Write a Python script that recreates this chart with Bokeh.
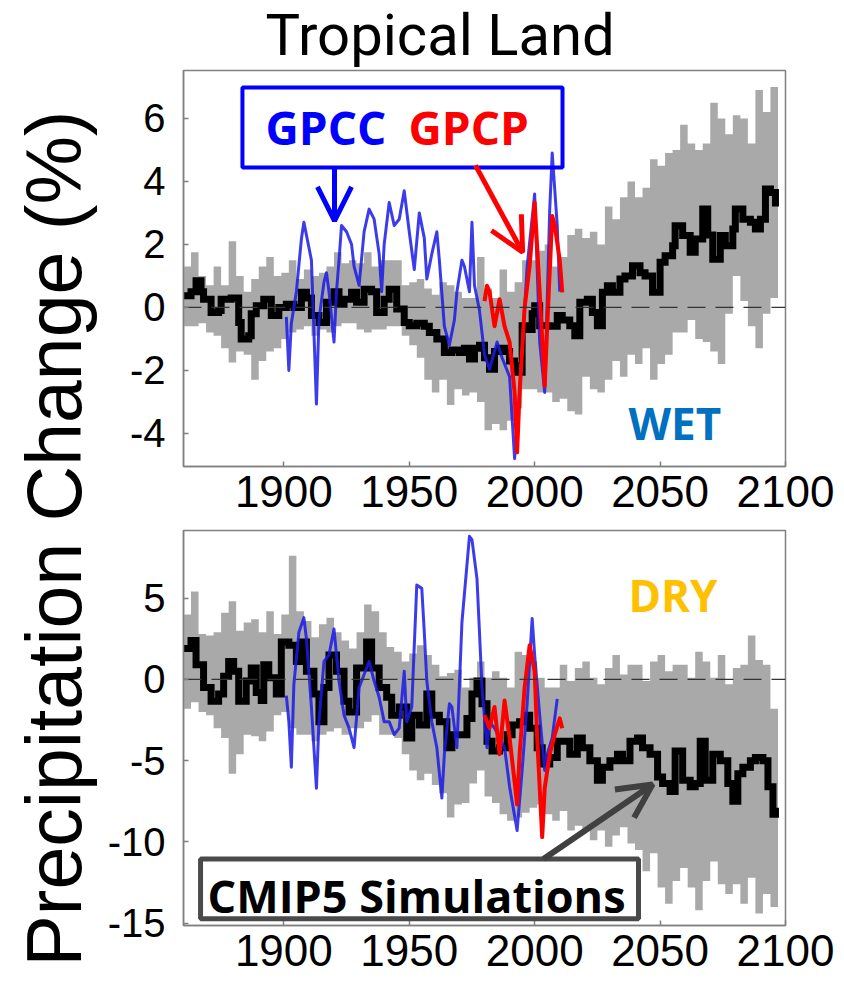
import math
from bokeh.plotting import figure
from bokeh.layouts import row, column
from bokeh.models import (Range1d, FixedTicker, Span, Label, Arrow, OpenHead,
                          BoxAnnotation)
from bokeh.core.properties import value
from bokeh.embed import file_html
from bokeh.resources import INLINE

# ------------------------------------------------------------------ data
x_ticks = [1900, 1950, 2000, 2050, 2100]
x_tick_labels = ["1900", "1950", "2000", "2050", "2100"]
wet_yticks = [-4, -2, 0, 2, 4, 6]
wet_ytick_labels = ["-4", "-2", "0", "2", "4", "6"]
dry_yticks = [-15, -10, -5, 0, 5]
dry_ytick_labels = ["-15", "-10", "-5", "0", "5"]

band_years = [1860, 1863, 1866, 1869, 1872, 1875, 1878, 1881, 1884, 1887,
              1890, 1893, 1896, 1899, 1902, 1905, 1908, 1911, 1914, 1917,
              1920, 1923, 1926, 1929, 1932, 1935, 1938, 1941, 1944, 1947,
              1950, 1953, 1956, 1959, 1962, 1965, 1968, 1971, 1974, 1977,
              1980, 1983, 1986, 1989, 1992, 1995, 1998, 2001, 2004, 2007,
              2010, 2013, 2016, 2019, 2022, 2025, 2028, 2031, 2034, 2037,
              2040, 2043, 2046, 2049, 2052, 2055, 2058, 2061, 2064, 2067,
              2070, 2073, 2076, 2079, 2082, 2085, 2088, 2091, 2094, 2097]

# WET (top) CMIP5 range
wet_band_hi = [1.3, 1.75, 1.0, 0.7, 1.3, 0.7, 2.1, 1.0, 0.5, 0.9,
               1.3, 1.6, 1.0, 1.1, 1.5, 0.9, 1.2, 1.0, 1.1, 1.3,
               1.75, 1.4, 1.5, 1.4, 1.75, 1.3, 1.5, 1.5, 1.5, 0.7,
               0.8, 0.9, 0.6, 0.4, 0.8, 0.7, 0.5, 0.3, 0.3, 1.6,
               0.6, 0.3, 1.2, 0.5, 0.8, 1.5, 1.5, 1.8, 2.0, 1.3,
               1.6, 2.3, 2.5, 2.2, 2.4, 2.0, 3.2, 2.8, 3.5, 4.0,
               3.5, 3.8, 4.7, 4.5, 4.9, 5.0, 5.8, 5.2, 5.0, 5.2,
               6.5, 6.0, 5.5, 6.1, 6.0, 5.2, 6.9, 6.2, 7.0, 6.4]
wet_band_lo = [-0.6, -0.6, -0.5, -0.8, -0.9, -1.3, -1.75, -1.4, -1.5, -2.3,
               -1.7, -1.4, -1.3, -1.0, -0.8, -0.7, -0.6, -0.9, -0.7, -0.8,
               -0.6, -0.5, -0.5, -0.7, -0.8, -0.7, -0.7, -0.6, -0.6, -0.9,
               -1.2, -1.6, -2.3, -2.7, -2.3, -3.1, -2.6, -2.8, -2.7, -3.0,
               -3.9, -3.7, -3.9, -3.6, -3.2, -2.6, -2.6, -2.7, -2.7, -3.0,
               -2.9, -3.3, -3.4, -2.2, -2.6, -2.7, -2.3, -1.7, -2.2, -1.5,
               -1.8, -1.3, -2.3, -1.8, -1.5, -0.8, -0.8, -0.4, -1.0, -1.1,
               -1.4, -1.8, -0.2, 1.0, 0.2, -0.6, -1.3, -0.2, 0.3, -0.8]

# WET multi-model mean
wet_mean_years = [1860, 1863, 1865, 1867, 1868, 1871, 1874, 1875, 1879, 1882,
                  1883, 1886, 1887, 1889, 1892, 1895, 1898, 1901, 1904, 1907,
                  1909, 1911, 1914, 1917, 1920, 1922, 1924, 1927, 1929, 1932,
                  1935, 1937, 1940, 1942, 1945, 1948, 1950, 1953, 1956, 1958,
                  1961, 1964, 1967, 1970, 1972, 1974, 1976, 1978, 1980, 1982,
                  1984, 1986, 1988, 1990, 1992, 1993, 1995, 1997, 1999, 2000,
                  2002, 2006, 2009, 2011, 2014, 2016, 2018, 2021, 2023, 2025,
                  2027, 2029, 2031, 2034, 2036, 2039, 2042, 2044, 2047, 2050,
                  2052, 2055, 2056, 2059, 2062, 2064, 2067, 2069, 2071, 2074,
                  2076, 2079, 2080, 2083, 2086, 2088, 2090, 2092, 2094, 2096]
wet_mean = [0.37, 0.5, 0.85, 0.5, 0.26, -0.16, -0.1, 0.26, 0.3, -0.48,
            -1.0, -0.9, -0.2, 0.05, 0.26, -0.26, 0.0, 0.1, 0.0, 0.48,
            0.3, -0.26, -0.48, 0.16, 0.5, 0.1, 0.26, 0.48, 0.16, 0.58,
            0.5, -0.16, 0.26, 0.58, -0.05, -0.48, -0.58, -0.5, -0.6, -0.8,
            -1.0, -1.43, -1.35, -1.43, -1.3, -1.64, -1.3, -1.2, -1.6, -1.96,
            -1.4, -1.3, -1.4, -1.7, -1.85, -2.06, -0.58, -0.7, -0.2, 0.05,
            -0.58, -0.6, -0.26, -0.4, -0.58, -0.9, 0.16, 0.26, -0.16, -0.58,
            0.48, 0.69, 0.48, 0.9, 1.0, 1.32, 1.1, 1.0, 0.48, 1.43,
            1.64, 1.96, 2.59, 2.28, 1.75, 2.17, 3.12, 2.3, 1.53, 2.28,
            1.96, 2.49, 3.12, 2.8, 2.7, 2.49, 2.8, 3.76, 3.65, 3.2]

# WET observations
wet_gpcc_years = [1901, 1902, 1903, 1905, 1907, 1908, 1910, 1911, 1913, 1914,
                  1916, 1917, 1918, 1920, 1921, 1922, 1923, 1925, 1927, 1928,
                  1930, 1932, 1934, 1936, 1938, 1939, 1940, 1942, 1944, 1946,
                  1948, 1950, 1952, 1954, 1956, 1957, 1959, 1961, 1962, 1964,
                  1966, 1968, 1969, 1971, 1972, 1974, 1975, 1976, 1978, 1980,
                  1982, 1985, 1987, 1990, 1992, 1994, 1997, 2000, 2002, 2004,
                  2006, 2007, 2009, 2010]
wet_gpcc = [-0.3, -2.0, -0.5, 0.5, 2.17, 2.7, 1.9, 1.5, -3.07, -0.4,
            0.8, 1.1, 0.5, -1.1, 0.5, 1.5, 2.6, 2.4, 2.0, 1.3,
            0.7, 2.4, 3.12, 2.8, 1.7, 0.5, 2.0, 3.33, 2.6, 2.8,
            3.7, 2.4, 1.2, 3.0, 2.2, 0.9, 1.7, 2.4, 1.5, -0.6,
            -1.2, -0.4, 0.5, 1.5, 1.3, 0.5, 2.7, 0.7, -0.1, -1.5,
            -1.96, -1.1, -1.6, -2.2, -4.8, -2.7, 1.3, 3.6, -1.1, -2.7,
            3.1, 4.9, 2.6, 0.5]
wet_gpcp_years = [1980, 1981, 1982, 1984, 1986, 1988, 1990, 1992, 1993, 1994,
                  1996, 1998, 2000, 2002, 2004, 2005, 2007, 2008, 2010, 2011]
wet_gpcp = [0.2, 0.69, 0.5, -0.6, 0.26, -0.6, -1.1, -2.7, -4.6, -2.7,
            0.0, 1.32, 3.33, 0.48, -2.5, -0.6, 2.9, 2.6, 1.5, 0.48]

# DRY (bottom) CMIP5 range
dry_band_hi = [4.0, 5.4, 2.8, 2.7, 2.9, 4.1, 4.8, 3.0, 3.5, 3.7,
               2.9, 4.2, 2.8, 4.0, 7.6, 4.2, 3.6, 2.6, 3.4, 3.8,
               2.9, 2.4, 1.9, 2.9, 4.6, 4.2, 2.9, 2.0, 1.7, 1.1,
               1.6, 2.1, 1.5, 0.9, 0.2, 0.4, 0.6, -0.5, 0.1, 1.1,
               0.1, 0.5, 0.1, -0.5, 1.7, 1.5, 1.1, 0.1, -0.5, -0.5,
               0.9, -0.1, 0.7, 1.1, 0.1, -0.3, 0.7, 1.5, 0.3, 0.9,
               0.9, -0.1, 1.1, 1.5, 0.5, 0.9, 0.9, 0.1, 1.7, 1.1,
               0.1, 1.5, -0.3, 0.7, 0.9, 2.7, 1.2, 0.9, -1.8, -1.9]
dry_band_lo = [-1.8, -1.4, -2.0, -2.2, -3.0, -3.6, -5.8, -4.6, -3.4, -3.5,
               -3.8, -3.2, -2.2, -2.0, -3.0, -3.4, -3.4, -3.8, -3.4, -3.2,
               -3.0, -3.4, -3.0, -3.0, -2.6, -2.2, -3.4, -3.4, -3.6, -4.6,
               -5.6, -6.2, -5.8, -6.5, -7.0, -8.5, -7.7, -7.6, -6.4, -5.6,
               -7.2, -7.6, -8.3, -8.7, -8.5, -8.2, -7.9, -7.7, -8.3, -8.7,
               -8.1, -9.3, -9.0, -9.2, -9.9, -9.3, -10.3, -9.6, -9.1, -10.1,
               -10.5, -11.8, -10.7, -12.8, -13.8, -12.4, -11.6, -12.8, -14.2, -12.4,
               -11.2, -12.6, -13.2, -12.6, -13.8, -12.2, -14.4, -13.2, -14.0, -12.8]

# DRY multi-model mean
dry_mean_years = [1860, 1863, 1865, 1868, 1871, 1874, 1876, 1878, 1880, 1882,
                  1885, 1887, 1889, 1891, 1892, 1894, 1897, 1899, 1902, 1905,
                  1907, 1909, 1912, 1914, 1916, 1918, 1921, 1924, 1926, 1929,
                  1933, 1935, 1938, 1941, 1943, 1946, 1949, 1951, 1954, 1957,
                  1959, 1962, 1965, 1967, 1970, 1973, 1975, 1977, 1979, 1981,
                  1983, 1986, 1989, 1991, 1994, 1996, 1998, 2001, 2003, 2006,
                  2009, 2011, 2014, 2017, 2019, 2022, 2025, 2027, 2030, 2033,
                  2035, 2038, 2041, 2043, 2046, 2049, 2051, 2054, 2056, 2059,
                  2062, 2064, 2066, 2068, 2071, 2074, 2077, 2079, 2081, 2083,
                  2086, 2088, 2091, 2093, 2095, 2096]
dry_mean = [1.9, 2.4, 0.9, -0.5, -1.35, -0.9, 0.2, 1.1, 0.5, -1.35,
            -0.1, 0.7, -0.8, -1.3, 0.9, 0.1, -0.9, 2.3, 2.1, 1.1,
            2.3, 0.5, -0.9, -2.6, -0.5, 1.5, 0.5, -1.35, -2.0, 0.7,
            2.3, 0.7, -0.5, -1.1, -2.2, -1.7, -3.6, -2.2, -2.8, -0.9,
            -2.2, -2.6, -4.2, -3.4, -3.4, -2.4, -0.9, -0.1, -1.5, -3.8,
            -4.4, -4.2, -3.4, -2.8, -2.6, -2.2, -3.0, -4.2, -5.2, -4.8,
            -3.8, -3.8, -4.6, -3.6, -4.2, -5.0, -6.2, -5.4, -5.0, -4.6,
            -5.0, -3.8, -3.6, -4.2, -4.6, -6.0, -6.4, -6.9, -4.4, -6.2,
            -6.6, -6.4, -3.8, -6.2, -4.6, -5.0, -6.4, -7.5, -5.8, -5.4,
            -5.0, -4.8, -5.0, -6.6, -8.3, -7.9]

# DRY observations
dry_gpcc_years = [1901, 1902, 1903, 1904, 1906, 1908, 1909, 1911, 1913, 1914,
                  1916, 1918, 1920, 1922, 1924, 1926, 1928, 1930, 1932, 1934,
                  1936, 1938, 1940, 1942, 1944, 1946, 1948, 1949, 1951, 1953,
                  1955, 1956, 1957, 1959, 1961, 1963, 1964, 1966, 1967, 1969,
                  1971, 1974, 1975, 1977, 1978, 1979, 1981, 1982, 1984, 1986,
                  1988, 1990, 1993, 1995, 1997, 1999, 2000, 2002, 2004, 2005,
                  2007, 2009]
dry_gpcc = [-1.0, -2.6, -5.4, -0.3, 2.9, 3.8, 2.5, -1.7, -6.7, -2.6,
            1.1, 1.5, 3.1, -0.1, -2.2, -3.0, -4.2, -0.5, 0.3, 1.1,
            -0.1, -1.1, -2.6, -2.6, -3.4, -3.0, 0.5, -2.6, -1.7, 5.8,
            5.6, 2.9, -0.1, -2.6, -4.2, -7.3, -4.6, -1.5, -1.7, -4.2,
            3.5, 8.8, 8.6, 6.2, 2.9, -0.5, -4.2, -2.6, -3.0, -3.6,
            -4.2, -6.6, -9.3, -5.6, -1.5, 3.75, 1.5, -2.2, -5.6, -4.6,
            -3.6, -1.2]
dry_gpcp_years = [1980, 1982, 1984, 1986, 1988, 1990, 1992, 1993, 1994, 1996,
                  1998, 2000, 2001, 2003, 2004, 2006, 2008, 2010, 2011]
dry_gpcp = [-2.2, -3.0, -1.7, -4.6, -1.3, -3.6, -6.3, -7.7, -4.6, -0.5,
            2.1, 0.5, -3.6, -9.7, -6.7, -4.6, -3.4, -2.4, -3.0]

# ------------------------------------------------------------------ styling
FRAME = "#808080"
BAND = "#a9a9a9"
BLUE = "#1a1ae6"
RED = "#ff0000"


def make_panel(height, yr, yticks, ylabels, border_top, border_bottom):
    p = figure(width=744, height=height,
               x_range=Range1d(1860, 2100), y_range=Range1d(*yr),
               output_backend="svg", toolbar_location=None,
               min_border_left=83, min_border_right=59,
               min_border_top=border_top, min_border_bottom=border_bottom)
    p.grid.visible = False
    p.outline_line_color = FRAME
    p.outline_line_width = 1.5
    p.background_fill_color = "white"
    p.border_fill_color = "white"

    xa = p.xaxis[0]
    xa.ticker = FixedTicker(ticks=x_ticks)
    xa.major_label_overrides = dict(zip(x_ticks, x_tick_labels))
    xa.major_label_text_font = "Liberation Sans"
    xa.major_label_text_font_size = "44px"
    xa.major_label_text_color = "black"
    xa.major_label_standoff = 9

    ya = p.yaxis[0]
    ya.ticker = FixedTicker(ticks=yticks)
    ya.major_label_overrides = dict(zip(yticks, ylabels))
    ya.major_label_text_font = "Liberation Sans"
    ya.major_label_text_font_size = "40px"
    ya.major_label_text_color = "black"
    ya.major_label_standoff = 18

    for ax in (xa, ya):
        ax.axis_line_color = FRAME
        ax.axis_line_width = 1.5
        ax.major_tick_line_color = FRAME
        ax.major_tick_line_width = 1.5
        ax.major_tick_in = 5
        ax.major_tick_out = 0
        ax.minor_tick_line_color = None
    return p


def draw_series(p, band_hi, band_lo, m_years, m_vals, c_years, c_vals, g_years, g_vals):
    p.varea_step(x=band_years, y1=band_lo, y2=band_hi, step_mode="after",
                 fill_color=BAND, fill_alpha=1.0)
    p.add_layout(Span(location=0, dimension="width", line_color="#333333",
                      line_width=1.2, line_dash="18 10", level="glyph"))
    p.step(x=m_years, y=m_vals, mode="after", line_color="black",
           line_width=7, line_join="miter")
    p.line(x=c_years, y=c_vals, line_color=BLUE, line_width=3, line_alpha=0.85,
           line_join="round")
    p.line(x=g_years, y=g_vals, line_color=RED, line_width=4, line_join="round")


def bold_label(p, x, y, text, size, color):
    p.add_layout(Label(x=x, y=y, text=text, text_font="Open Sans",
                       text_font_style="bold", text_font_size=size,
                       text_color=color, text_baseline="alphabetic"))


# ------------------------------------------------------------------ title strip
# same horizontal frame as the panels, so the title can be placed on the year axis
title_fig = figure(width=744, height=69, x_range=Range1d(1860, 2100), y_range=Range1d(0, 69),
                   output_backend="svg", toolbar_location=None,
                   min_border_left=83, min_border_right=59,
                   min_border_top=0, min_border_bottom=0,
                   x_axis_location=None, y_axis_location=None)
title_fig.grid.visible = False
title_fig.outline_line_color = None
title_fig.text(x=[1892.7], y=[34.5], text=["Tropical Land"], text_align="left",
               text_baseline="alphabetic", text_font=value("Roboto"),
               text_font_size="58px", text_color="black")

# ------------------------------------------------------------------ top (WET)
top = make_panel(457, (-5.05, 7.52), wet_yticks, wet_ytick_labels, 1, 60)
draw_series(top, wet_band_hi, wet_band_lo, wet_mean_years, wet_mean,
            wet_gpcc_years, wet_gpcc, wet_gpcp_years, wet_gpcp)

top.add_layout(BoxAnnotation(left=1883.5, right=2011.1, bottom=4.44, top=6.98,
                             fill_alpha=0, line_color="#0000ff", line_width=4,
                             line_alpha=1.0))
bold_label(top, 1892.7, 5.72, "GPCC", "46px", "#0000ff")
bold_label(top, 1949.7, 5.72, "GPCP", "46px", "#ff0000")
top.add_layout(Arrow(x_start=1920.2, y_start=4.44, x_end=1920.2, y_end=2.75,
                     line_color="#0000ff", line_width=5,
                     end=OpenHead(size=34, line_color="#0000ff", line_width=5)))
top.add_layout(Arrow(x_start=1976.4, y_start=4.51, x_end=1995.2, y_end=1.75,
                     line_color="#ff0000", line_width=5,
                     end=OpenHead(size=34, line_color="#ff0000", line_width=5)))
bold_label(top, 2037.4, -3.67, "WET", "44px", "#0070c0")

# ------------------------------------------------------------------ bottom (DRY)
bot = make_panel(458, (-15.14, 9.16), dry_yticks, dry_ytick_labels, 4, 59)
draw_series(bot, dry_band_hi, dry_band_lo, dry_mean_years, dry_mean,
            dry_gpcc_years, dry_gpcc, dry_gpcp_years, dry_gpcp)

bold_label(bot, 2037.4, 5.2, "DRY", "44px", "#ffc000")
bot.add_layout(BoxAnnotation(left=1866.8, right=2041.4, bottom=-14.72, top=-11.05,
                             fill_color="white", fill_alpha=1.0,
                             line_color="#4a4a4a", line_width=5, line_alpha=1.0))
bold_label(bot, 1869.6, -13.27, "CMIP5 Simulations", "45px", "black")
bot.add_layout(Arrow(x_start=2003.5, y_start=-11.05, x_end=2047.0, y_end=-6.46,
                     line_color="#404040", line_width=6,
                     end=OpenHead(size=34, line_color="#404040", line_width=6)))

# ------------------------------------------------------------------ y label column
lab = figure(width=100, height=984, x_range=Range1d(0, 100), y_range=Range1d(0, 984),
             output_backend="svg", toolbar_location=None, min_border=0,
             x_axis_location=None, y_axis_location=None)
lab.grid.visible = False
lab.outline_line_color = None
lab.text(x=[53], y=[18], text=["Precipitation Change (%)"], angle=math.pi / 2,
         text_align="left", text_baseline="alphabetic",
         text_font=value("Liberation Sans"), text_font_size="77px",
         text_color="black")

layout = row(lab, column(title_fig, top, bot, spacing=0), spacing=0)

open("out.html", "w").write(file_html(layout, INLINE))
